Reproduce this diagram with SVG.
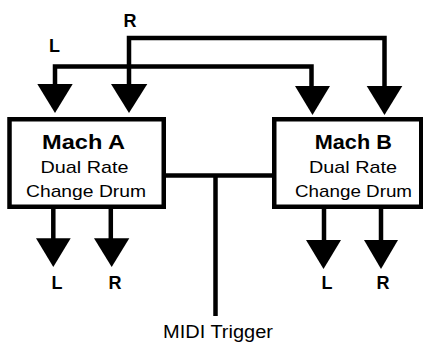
<svg xmlns="http://www.w3.org/2000/svg" width="423" height="343" viewBox="0 0 423 343">
<style>
.box{fill:#fff;stroke:#000;stroke-width:4.5}
.ln{fill:none;stroke:#000;stroke-width:4.5}
.ah{fill:#000}
.t{font-family:"Liberation Sans",Arial,sans-serif;fill:#000;text-anchor:middle}
.b{font-weight:bold}
</style>
<g id="connectors">
<polyline class="ln" points="55,85 55,66.5 311.5,66.5 311.5,88"/>
<polyline class="ln" points="129,85 129,38 384.5,38 384.5,88"/>
<line class="ln" x1="166" y1="175.5" x2="272" y2="175.5"/>
<line class="ln" x1="215.5" y1="175.5" x2="215.5" y2="316"/>
<line class="ln" x1="53.3" y1="209" x2="53.3" y2="240"/>
<line class="ln" x1="110.8" y1="209" x2="110.8" y2="240"/>
<line class="ln" x1="324" y1="209" x2="324" y2="242"/>
<line class="ln" x1="381" y1="209" x2="381" y2="242"/>
<polygon class="ah" points="37.3,84 72.7,84 55,113"/>
<polygon class="ah" points="111,84 147.3,84 129,113"/>
<polygon class="ah" points="295,86 330,86 312.5,115"/>
<polygon class="ah" points="366.7,86 402.3,86 384.5,115"/>
<polygon class="ah" points="36,238.3 70.7,238.3 53.3,267"/>
<polygon class="ah" points="94,238.3 129.3,238.3 111.7,267"/>
<polygon class="ah" points="306,240 341,240 323.5,269"/>
<polygon class="ah" points="364,240 398,240 381,269"/>
</g>
<g id="machA">
<rect class="box" x="9.5" y="119.25" width="154.25" height="87.5"/>
<text class="t b" x="83.5" y="149.3" font-size="20" textLength="83" lengthAdjust="spacingAndGlyphs">Mach A</text>
<text class="t" x="84.5" y="173.3" font-size="17" textLength="88" lengthAdjust="spacingAndGlyphs">Dual Rate</text>
<text class="t" x="86" y="197.3" font-size="17" textLength="120" lengthAdjust="spacingAndGlyphs">Change Drum</text>
</g>
<g id="machB">
<rect class="box" x="274.25" y="119.25" width="147" height="87.5"/>
<text class="t b" x="353.3" y="149.3" font-size="20" textLength="77" lengthAdjust="spacingAndGlyphs">Mach B</text>
<text class="t" x="353" y="173.3" font-size="17" textLength="88" lengthAdjust="spacingAndGlyphs">Dual Rate</text>
<text class="t" x="353.5" y="197.3" font-size="17" textLength="117" lengthAdjust="spacingAndGlyphs">Change Drum</text>
</g>
<g id="labels">
<text class="t b" x="54.5" y="51.7" font-size="18">L</text>
<text class="t b" x="130" y="26.7" font-size="18">R</text>
<text class="t b" x="57" y="288.5" font-size="18">L</text>
<text class="t b" x="115" y="288.5" font-size="18">R</text>
<text class="t b" x="327" y="289" font-size="18">L</text>
<text class="t b" x="383" y="289" font-size="18">R</text>
</g>
<g id="midi">
<text class="t" x="218" y="337.7" font-size="17.5" textLength="110" lengthAdjust="spacingAndGlyphs">MIDI Trigger</text>
</g>
</svg>
